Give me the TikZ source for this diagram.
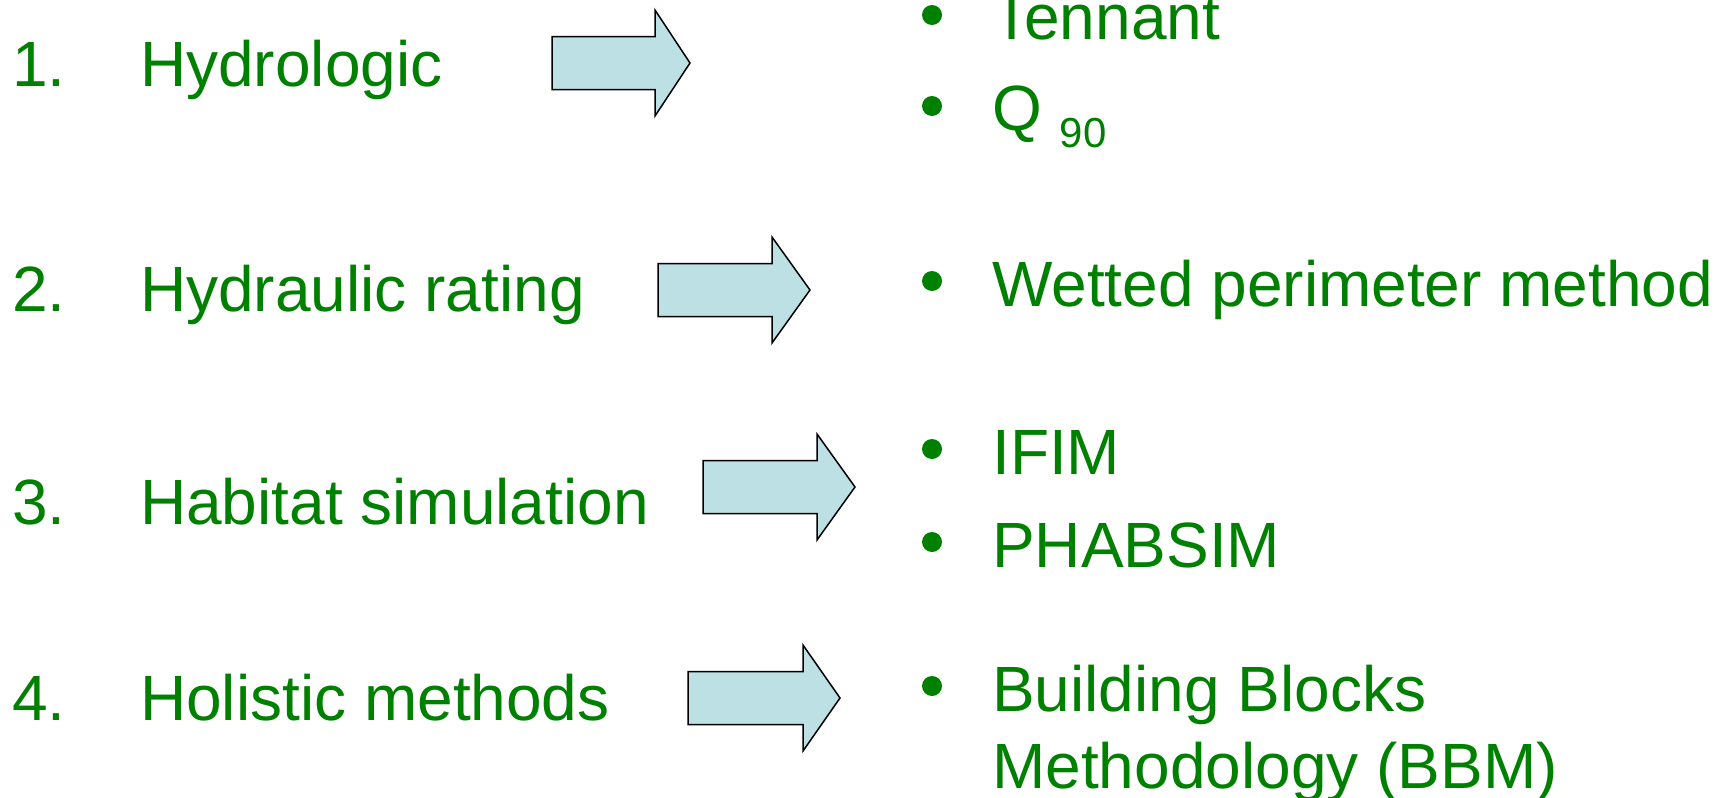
\documentclass[tikz,border=0pt]{standalone}
\usepackage{fontspec}
\setmainfont{Liberation Sans}
\usepackage{tikz}
\usetikzlibrary{positioning}
\usepackage{xcolor}
\definecolor{leafgreen}{HTML}{008000}
\definecolor{arrowfill}{HTML}{BCE0E4}
\newcommand{\subnum}[1]{\raisebox{-17pt}{\fontsize{42}{48}\selectfont #1}}
% block arrow: left end, head base, tip, centre line
\newcommand{\flowarrow}[4]{%
  \draw[blk] (#1,#4-26.5) -- (#2,#4-26.5) -- (#2,#4-53) -- (#3,#4)
    -- (#2,#4+53) -- (#2,#4+26.5) -- (#1,#4+26.5) -- cycle;}
\tikzset{
  num/.style  ={anchor=base west, inner sep=0pt, text=leafgreen,
                font=\fontsize{64}{74}\selectfont},
  lbl/.style  ={num},
  item/.style ={num},
  dot/.style  ={circle, fill=leafgreen, inner sep=0pt, minimum size=20pt},
  blk/.style  ={draw=black, fill=arrowfill, line width=1.5pt,
                line join=miter},
}
\begin{document}
\begin{tikzpicture}[x=1pt, y=-1pt]
\useasboundingbox (0,0) rectangle (1730,798);
% left column
\node[num] (n1) at (12,86)  {1.};
\node[lbl] (l1) at (140,86) {Hydrologic};
\node[num] (n2) at (12,311) {2.};
\node[lbl] (l2) at (140,311) {Hydraulic rating};
\node[num] (n3) at (12,524) {3.};
\node[lbl] (l3) at (140,524) {Habitat simulation};
\node[num] (n4) at (12,720) {4.};
\node[lbl] (l4) at (140,720) {Holistic methods};
% arrows
\flowarrow{552}{655}{690}{63}
\flowarrow{658}{772}{810}{290}
\flowarrow{703}{817}{855}{487}
\flowarrow{688}{803}{840}{698}
% right column
\node[dot]  (d1) at (932,15)  {};
\node[item] (i1) at (992,39)  {Tennant};
\node[dot]  (d2) at (932,106) {};
\node[item] (i2) at (992,130) {Q \subnum{90}};
\node[dot]  (d3) at (932,281) {};
\node[item] (i3) at (992,306) {Wetted perimeter method};
\node[dot]  (d4) at (932,449) {};
\node[item] (i4) at (992,474) {IFIM};
\node[dot]  (d5) at (932,542) {};
\node[item] (i5) at (992,567) {PHABSIM};
\node[dot]  (d6) at (932,686) {};
\node[item] (i6) at (992,711) {Building Blocks};
\node[item] (i7) at (992,788) {Methodology (BBM)};
\end{tikzpicture}
\end{document}
